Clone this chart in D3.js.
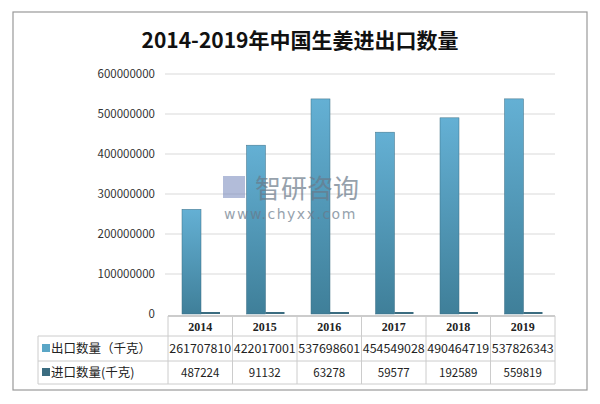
<!DOCTYPE html><html><head><meta charset="utf-8"><script src="https://cdn.jsdelivr.net/npm/d3@7"></script>
<style>body{margin:0;background:#fff}</style></head><body><svg id="c" width="600" height="404"></svg>
<script>
const years=["2014","2015","2016","2017","2018","2019"];
const exportVals=[261707810,422017001,537698601,454549028,490464719,537826343];
const importVals=[487224,91132,63278,59577,192589,559819];
const seriesNames=["出口数量（千克）","进口数量(千克)"];
const yTicks=[0,100000000,200000000,300000000,400000000,500000000,600000000];
const svg=d3.select("#c");
const F="'Noto Sans CJK SC','Noto Sans',sans-serif";
svg.append("rect").attr("x",13).attr("y",12).attr("width",574).attr("height",378).attr("fill","#fff").attr("stroke","#999").attr("stroke-width",1.2);
svg.append("text").attr("x",300).attr("y",48).attr("text-anchor","middle").attr("font-family",F).attr("font-size",21).attr("font-weight","bold").attr("fill","#111").text("2014-2019年中国生姜进出口数量");
const defs=svg.append("defs");
const g1=defs.append("linearGradient").attr("id","g1").attr("x1",0).attr("y1",0).attr("x2",0).attr("y2",1);
g1.append("stop").attr("offset","0%").attr("stop-color","#64b0d4");
g1.append("stop").attr("offset","100%").attr("stop-color","#3f7f99");
const x=d3.scaleBand().domain(years).range([168,555]);
const y=d3.scaleLinear().domain([0,600000000]).range([314,74]);
const gg=svg.append("g");
yTicks.forEach(t=>{
 if(t>0) gg.append("line").attr("x1",165).attr("x2",555).attr("y1",y(t)).attr("y2",y(t)).attr("stroke","#d9d9d9");
 gg.append("text").attr("x",155).attr("y",y(t)+4).attr("text-anchor","end").attr("font-family",F).attr("font-size",11.5).attr("fill","#333").text(t);
});
const bw=19;
svg.selectAll(".e").data(years).enter().append("rect").attr("x",d=>x(d)+14).attr("y",(d,i)=>y(exportVals[i])).attr("width",bw).attr("height",(d,i)=>314-y(exportVals[i])).attr("fill","url(#g1)").attr("stroke","#3d6f85").attr("stroke-width",0.5);
svg.selectAll(".i").data(years).enter().append("rect").attr("x",d=>x(d)+14+bw).attr("y",(d,i)=>Math.min(y(importVals[i]),312)).attr("width",bw).attr("height",(d,i)=>Math.max(314-y(importVals[i]),2)).attr("fill","#3b6c80");
// watermark
svg.append("text").attr("x",255).attr("y",198).attr("font-family",F).attr("font-size",26).attr("fill","#6a7a8a").attr("opacity",0.7).text("智研咨询");
svg.append("rect").attr("x",223).attr("y",176).attr("width",22).attr("height",22).attr("fill","#7f8fc0").attr("opacity",0.6);
svg.append("text").attr("x",224).attr("y",219).attr("font-family","DejaVu Sans").attr("font-size",14).attr("fill","#6a7a8a").attr("opacity",0.7).attr("letter-spacing",1.5).text("www.chyxx.com");
// table
const tb=svg.append("g").attr("stroke","#ccc");
const rows=[316,336,361,384];
tb.append("line").attr("x1",168).attr("x2",555).attr("y1",316).attr("y2",316).attr("stroke","#999");
[336,361,384].forEach(r=>tb.append("line").attr("x1",38).attr("x2",555).attr("y1",r).attr("y2",r));
tb.append("line").attr("x1",38).attr("x2",38).attr("y1",336).attr("y2",384);
years.forEach(d=>tb.append("line").attr("x1",x(d)).attr("x2",x(d)).attr("y1",316).attr("y2",384));
tb.append("line").attr("x1",555).attr("x2",555).attr("y1",316).attr("y2",384);
const T=svg.append("g").attr("font-family",F).attr("fill","#222");
years.forEach((d,i)=>{
 const cx=x(d)+x.bandwidth()/2;
 T.append("text").attr("x",cx).attr("y",331).attr("text-anchor","middle").attr("font-size",12).attr("font-weight","bold").attr("font-family","'Liberation Serif',serif").text(d);
 T.append("text").attr("x",cx).attr("y",353).attr("text-anchor","middle").attr("font-size",11.5).attr("textLength",62).attr("lengthAdjust","spacingAndGlyphs").text(exportVals[i]);
 T.append("text").attr("x",cx).attr("y",377).attr("text-anchor","middle").attr("font-size",11.5).text(importVals[i]);
});
const cols=["#5aa6c6","#3b6c80"];
seriesNames.forEach((s,k)=>{
 const yy=k?377:353;
 svg.append("rect").attr("x",42).attr("y",yy-9).attr("width",8).attr("height",8).attr("fill",cols[k]);
 T.append("text").attr("x",51).attr("y",yy).attr("font-size",12.5).text(s);
});
</script></body></html>
